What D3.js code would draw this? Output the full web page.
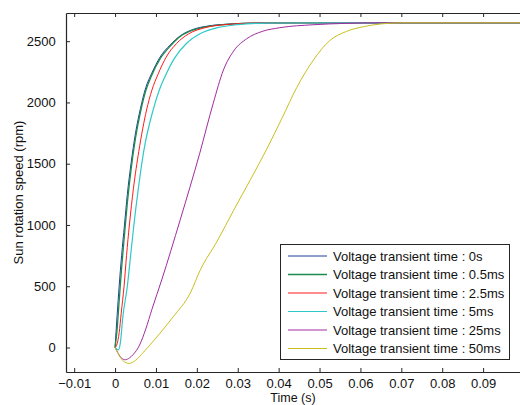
<!DOCTYPE html>
<html><head><meta charset="utf-8">
<script src="https://cdn.jsdelivr.net/npm/d3@7"></script>
<style>
html,body{margin:0;padding:0;background:#fff;}
svg{display:block;font-family:"Liberation Sans",Arial,Helvetica,sans-serif;}
</style></head>
<body><svg id="c" width="520" height="405"></svg>
<script>
// ---- data ----
const seriesNames = [
  "Voltage transient time : 0s",
  "Voltage transient time : 0.5ms",
  "Voltage transient time : 2.5ms",
  "Voltage transient time : 5ms",
  "Voltage transient time : 25ms",
  "Voltage transient time : 50ms"
];
const t0s   = [0,0.0005,0.001,0.0016,0.0023,0.003,0.0039,0.005,0.0062,0.0075,0.009,0.011,0.0135,0.016,0.019,0.023,0.028,0.035,0.05,0.1];
const v0s   = [0,260,500,750,1000,1250,1500,1750,1950,2120,2240,2370,2470,2545,2595,2625,2640,2648,2650,2650];
const t05ms = [0,0.0005,0.001,0.0016,0.0023,0.003,0.0039,0.005,0.0062,0.0075,0.009,0.011,0.0135,0.016,0.019,0.023,0.028,0.035,0.05,0.1];
const v05ms = [0,150,380,650,920,1180,1450,1710,1920,2095,2225,2355,2460,2540,2590,2622,2640,2648,2650,2650];
const t25ms = [0,0.0005,0.001,0.0015,0.0022,0.0028,0.0035,0.0045,0.0058,0.0077,0.009,0.0105,0.0125,0.015,0.018,0.022,0.027,0.035,0.05,0.1];
const v25ms = [0,30,120,280,500,750,1000,1300,1600,1938,2100,2230,2370,2480,2560,2610,2635,2648,2650,2650];
const t5ms  = [0,0.0008,0.0013,0.0019,0.003,0.0038,0.0046,0.0057,0.007,0.0093,0.0108,0.0122,0.0145,0.0175,0.021,0.025,0.03,0.037,0.05,0.1];
const v5ms  = [0,-20,40,250,500,750,1000,1300,1600,1938,2100,2210,2360,2483,2565,2610,2635,2647,2650,2650];
const t25   = [0,0.0008,0.0015,0.0025,0.0035,0.0045,0.006,0.0075,0.009,0.0114,0.0159,0.0207,0.024,0.0265,0.029,0.0322,0.036,0.0403,0.0484,0.056,0.065,0.1];
const v25   = [0,-50,-85,-100,-85,-55,20,150,310,551,1039,1585,1993,2265,2420,2520,2580,2610,2634,2645,2650,2650];
const t50   = [0,0.001,0.002,0.0035,0.005,0.0069,0.0102,0.0142,0.0184,0.0208,0.025,0.029,0.0331,0.0371,0.0408,0.0444,0.0485,0.0525,0.0566,0.0607,0.0648,0.07,0.1];
const v50   = [0,-65,-110,-130,-105,-40,85,250,445,630,870,1120,1370,1620,1870,2120,2346,2505,2580,2618,2640,2650,2650];
const xTicks = [-0.01,0,0.01,0.02,0.03,0.04,0.05,0.06,0.07,0.08,0.09];
const xTickLabels = ["\u22120.01","0","0.01","0.02","0.03","0.04","0.05","0.06","0.07","0.08","0.09"];
const yTicks = [0,500,1000,1500,2000,2500];
const yTickLabels = ["0","500","1000","1500","2000","2500"];

// ---- style ----
const colors = ["#1f3a9e","#1e8a4c","#ff1a1a","#2ec8c8","#a02ca0","#c8c020"];
const widths = [1,1.3,1,1.2,1,1];

const seriesT = [t0s,t05ms,t25ms,t5ms,t25,t50];
const seriesV = [v0s,v05ms,v25ms,v5ms,v25,v50];
const series = seriesNames.map((n,i)=>({name:n,pts:seriesT[i].map((t,j)=>[t,seriesV[i][j]])}));

const svg = d3.select("#c");
const L=66, R=524, T=13, B=372;
const x = d3.scaleLinear().domain([-0.012,0.1]).range([L,R]);
const y = d3.scaleLinear().domain([-200,2730]).range([B,T]);

const line = d3.line().curve(d3.curveMonotoneX).x(d=>x(d[0])).y(d=>y(d[1]));
const plot = svg.append("g");
plot.append("clipPath").attr("id","clip").append("rect").attr("x",L).attr("y",T).attr("width",R-L).attr("height",B-T);
const lines = plot.append("g").attr("clip-path","url(#clip)");
series.forEach((s,i)=>{
  lines.append("path").attr("d",line(s.pts)).attr("fill","none")
    .attr("stroke",colors[i]).attr("stroke-width",widths[i]).attr("stroke-linejoin","round");
});

// axes
const axCol="#262626";
const fs=13;
const xAxB = d3.axisBottom(x).tickValues(xTicks).tickFormat((d,i)=>xTickLabels[i]).tickSizeInner(-4).tickSizeOuter(0).tickPadding(7);
const gxb = svg.append("g").attr("transform",`translate(0,${B})`).call(xAxB);
const xAxT = d3.axisTop(x).tickValues(xTicks).tickFormat("").tickSizeInner(-4).tickSizeOuter(0);
const gxt = svg.append("g").attr("transform",`translate(0,${T})`).call(xAxT);
const yAxL = d3.axisLeft(y).tickValues(yTicks).tickFormat((d,i)=>yTickLabels[i]).tickSizeInner(-4).tickSizeOuter(0).tickPadding(9);
const gyl = svg.append("g").attr("transform",`translate(${L},0)`).call(yAxL);
const yAxR = d3.axisRight(y).tickValues(yTicks).tickFormat("").tickSizeInner(-4).tickSizeOuter(0);
const gyr = svg.append("g").attr("transform",`translate(${R},0)`).call(yAxR);
[gxb,gxt,gyl,gyr].forEach(g=>{
  g.selectAll(".domain").attr("stroke",axCol).attr("stroke-width",1.2);
  g.selectAll(".tick line").attr("stroke",axCol);
  g.selectAll("text").attr("font-size",fs).attr("fill","#111").attr("font-family","'Liberation Sans',Arial,sans-serif");
});
gyl.selectAll("text").attr("dx","-0.1em");

svg.append("text").attr("x",(L+R)/2-2).attr("y",402).attr("text-anchor","middle")
  .attr("font-size",12.5).attr("fill","#111").text("Time (s)");
svg.append("text").attr("transform",`translate(23,${(T+B)/2}) rotate(-90)`).attr("text-anchor","middle")
  .attr("font-size",fs).attr("fill","#111").text("Sun rotation speed (rpm)");

// legend
const lg = svg.append("g");
lg.append("rect").attr("x",280.5).attr("y",244.5).attr("width",229).attr("height",115)
  .attr("fill","#fff").attr("stroke",axCol).attr("stroke-width",1);
series.forEach((s,i)=>{
  const yy = 256 + i*18.5;
  lg.append("line").attr("x1",288).attr("x2",327).attr("y1",yy).attr("y2",yy)
    .attr("stroke",colors[i]).attr("stroke-width",widths[i]);
  lg.append("text").attr("x",333).attr("y",yy).attr("dy","0.35em").attr("font-size",fs)
    .attr("fill","#111").text(s.name);
});
</script></body></html>
